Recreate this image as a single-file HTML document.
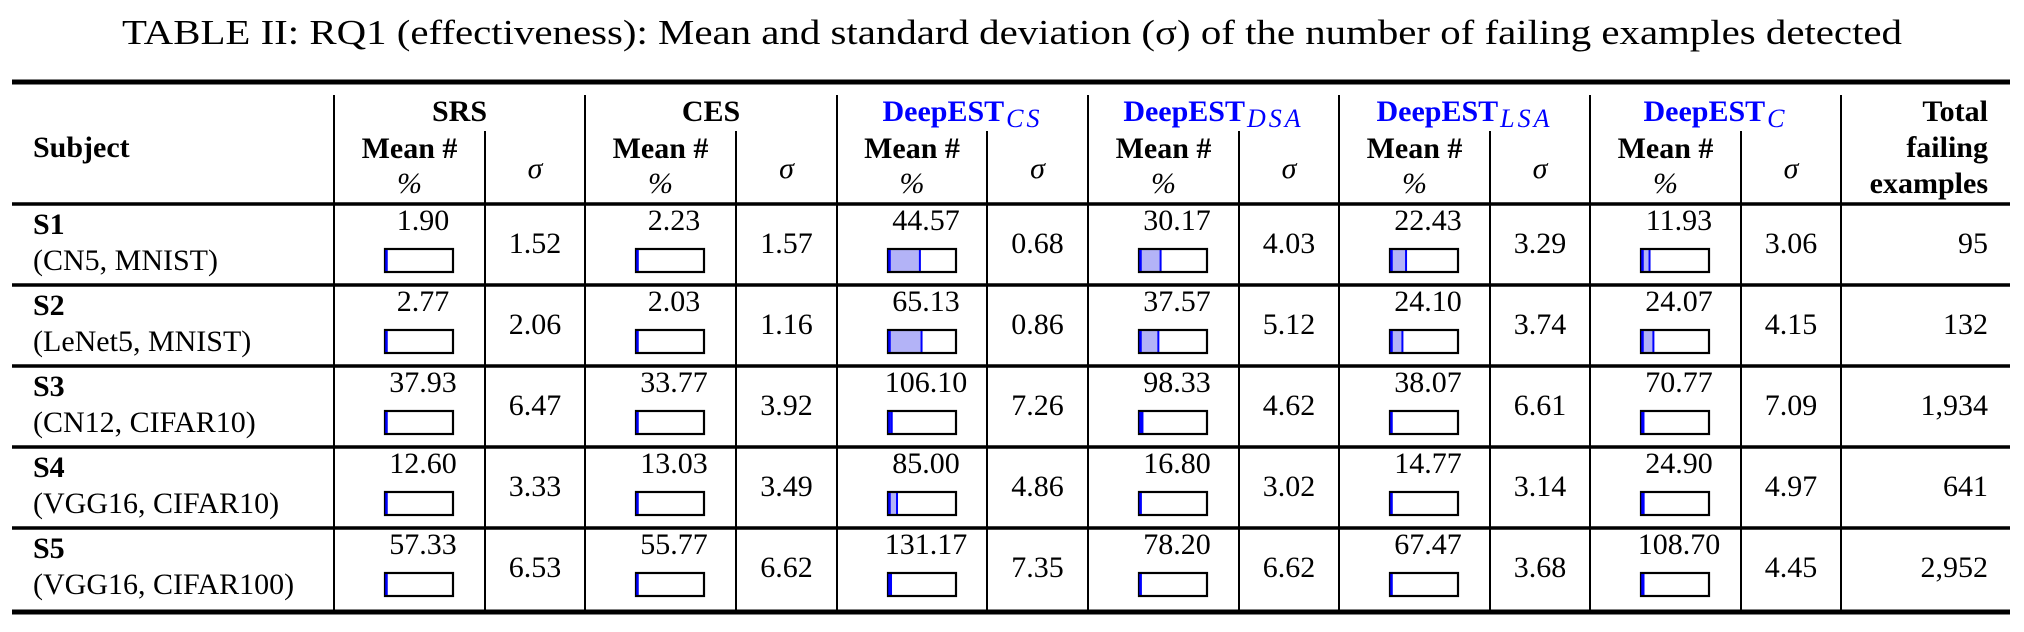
<!DOCTYPE html>
<html><head><meta charset="utf-8"><style>
html,body{margin:0;padding:0;background:#fff;}
svg, svg text{font-family:"Liberation Serif","Times New Roman",Times,serif;}
</style></head><body>
<svg id="t" width="2024" height="627" viewBox="0 0 2024 627" xmlns="http://www.w3.org/2000/svg"></svg>
<script>
const subjects = ["S1","S2","S3","S4","S5"];
const subjectDetails = ["(CN5, MNIST)","(LeNet5, MNIST)","(CN12, CIFAR10)","(VGG16, CIFAR10)","(VGG16, CIFAR100)"];
const methods = ["SRS","CES","DeepEST","DeepEST","DeepEST","DeepEST"];
const methodSubs = ["","","CS","DSA","LSA","C"];
const meanSRS = [1.90,2.77,37.93,12.60,57.33];
const sdSRS = [1.52,2.06,6.47,3.33,6.53];
const meanCES = [2.23,2.03,33.77,13.03,55.77];
const sdCES = [1.57,1.16,3.92,3.49,6.62];
const meanCS = [44.57,65.13,106.10,85.00,131.17];
const sdCS = [0.68,0.86,7.26,4.86,7.35];
const meanDSA = [30.17,37.57,98.33,16.80,78.20];
const sdDSA = [4.03,5.12,4.62,3.02,6.62];
const meanLSA = [22.43,24.10,38.07,14.77,67.47];
const sdLSA = [3.29,3.74,6.61,3.14,3.68];
const meanC = [11.93,24.07,70.77,24.90,108.70];
const sdC = [3.06,4.15,7.09,4.97,4.45];
const totals = [95,132,1934,641,2952];
const totalLabels = ["95","132","1,934","641","2,952"];

const means=[meanSRS,meanCES,meanCS,meanDSA,meanLSA,meanC];
const sds=[sdSRS,sdCES,sdCS,sdDSA,sdLSA,sdC];
const svg=document.getElementById('t');
const NS="http://www.w3.org/2000/svg";
const FF='"Liberation Serif", "Times New Roman", Times, serif';
function mk(tag,attrs,parent){const e=document.createElementNS(NS,tag);for(const k in attrs)e.setAttribute(k,attrs[k]);(parent||svg).appendChild(e);return e;}
function txt(x,y,s,o){o=o||{};const e=mk('text',{x:x,y:y,'font-size':o.size||30,'text-anchor':o.anchor||'middle','font-weight':o.bold?'bold':'normal',fill:o.fill||'#000','font-family':FF});if(o.italic)e.setAttribute('font-style','italic');e.textContent=s;return e;}
function line(x1,y1,x2,y2,w){return mk('line',{x1:x1,y1:y1,x2:x2,y2:y2,stroke:'#000','stroke-width':w});}

const title=txt(1012,44,"TABLE II: RQ1 (effectiveness): Mean and standard deviation (σ) of the number of failing examples detected",{size:35});
title.setAttribute('textLength','1780');
title.setAttribute('lengthAdjust','spacingAndGlyphs');



const L=12,R=2010;
const groupX=[334,585,837,1088,1339,1590,1841];
const subX=[485,736,987,1239,1490,1741];
const topRule=82,headBot=204,rowH=81,bottom=612;
const r1=line(L,topRule,R,topRule,5);


const r2=line(L,headBot,R,headBot,3.5);


for(let i=1;i<subjects.length;i++){const l=line(L,headBot+i*rowH,R,headBot+i*rowH,3.5);

}
const r3=line(L,bottom,R,bottom,5);


groupX.forEach(x=>{const l=line(x,95,x,bottom-2,2);

});
subX.forEach(x=>{const l=line(x,131,x,bottom-2,2);

});

const sh=txt(33,157,"Subject",{bold:true,anchor:'start'});


methods.forEach((m,i)=>{
  const cx=(groupX[i]+groupX[i+1])/2;
  const blue=methodSubs[i]!=='';
  const t=txt(cx,121,'',{bold:true,fill:blue?'#0000ff':'#000'});
  
  
  const a=document.createElementNS(NS,'tspan');a.textContent=m;t.appendChild(a);
  if(blue){const b=document.createElementNS(NS,'tspan');b.setAttribute('font-weight','normal');b.setAttribute('font-style','italic');b.setAttribute('font-size','26');b.setAttribute('dy','6');b.setAttribute('dx','2');b.setAttribute('letter-spacing','3');b.textContent=methodSubs[i];t.appendChild(b);}
  const mx=(groupX[i]+subX[i])/2, sx=(subX[i]+groupX[i+1])/2;
  const mh=txt(mx,158,"Mean #",{bold:true});
  
  
  const ph=txt(mx,193,"%",{italic:true});
  
  
  const sg=txt(sx,178,"σ",{italic:true});
  
  
});
const th1=txt(1988,121,"Total",{bold:true,anchor:'end'});


txt(1988,157,"failing",{bold:true,anchor:'end'});
txt(1988,193,"examples",{bold:true,anchor:'end'});

subjects.forEach((s,r)=>{
  const top=headBot+r*rowH;
  const a=txt(33,top+30,s,{bold:true,anchor:'start'});
  
  
  const b=txt(33,top+66,subjectDetails[r],{anchor:'start'});
  
  
  for(let i=0;i<6;i++){
    const v=means[i][r];
    const cl=groupX[i];
    const vt=txt(cl+89,top+26,v.toFixed(2));
    
    
    const bx=cl+51,bw=68,by=top+45,bh=23;
    const frac=Math.min(1,v/totals[r]);
    const fw=bw*frac;
    const fill=mk('rect',{x:bx,y:by,width:fw,height:bh,fill:'#b3b3f7',stroke:'#0000ff','stroke-width':2});
    
    
    const out=mk('rect',{x:bx,y:by,width:bw,height:bh,fill:'none',stroke:'#000','stroke-width':2.2});
    
    
    mk('line',{x1:bx+1.5,y1:by+1,x2:bx+1.5,y2:by+bh-1,stroke:'#0000ff','stroke-width':2.5});
    const sx=(subX[i]+groupX[i+1])/2;
    const st=txt(sx,top+49,sds[i][r].toFixed(2));
    
    
  }
  const tt=txt(1988,top+49,totalLabels[r],{anchor:'end'});
  
  
});
</script>
</body></html>
